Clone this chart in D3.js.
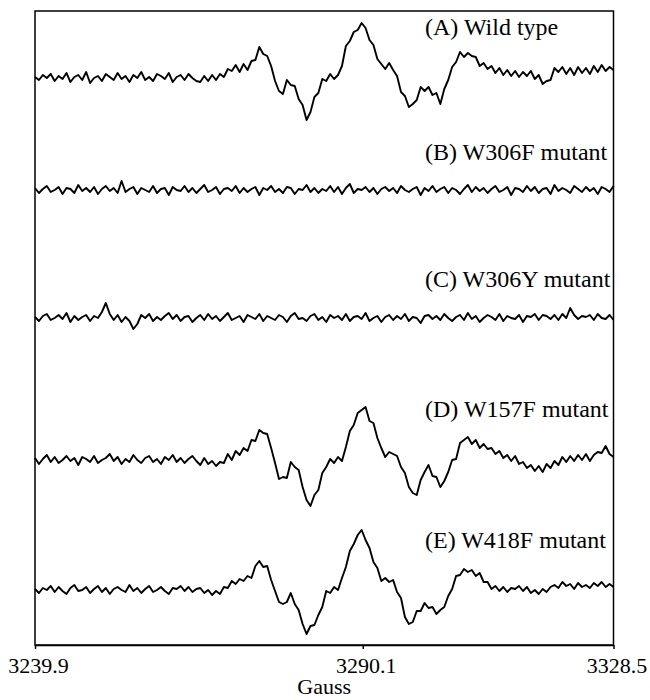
<!DOCTYPE html>
<html>
<head>
<meta charset="utf-8">
<script src="https://cdn.jsdelivr.net/npm/d3@7"></script>
<style>
    body { margin: 0; background: #fff; }
    text { font-family: "Liberation Serif", "Times New Roman", serif; fill: #000; }
</style>
</head>
<body>
<svg id="chart" width="650" height="700"></svg>
<script>
// field sweep (Gauss) and the three labelled ticks
var fieldStart = 3239.9, fieldEnd = 3328.5;
var tickFields = [3239.9, 3290.1, 3328.5];

var traceLabels = ["(A) Wild type", "(B) W306F mutant", "(C) W306Y mutant", "(D) W157F mutant", "(E) W418F mutant"];
// vertical stacking of the spectra, in signal units
var traceOffsets = [567, 455, 327, 185, 55];

var wildType = [1,-2,3,0,4,-3,2,-1,5,-4,1,3,-2,6,-5,0,2,-3,4,1,-2,5,-1,2,-4,3,0,6,-2,1,-3,4,2,-1,5,-4,1,3,-2,4,0,-3,
    -4,2,-3,3,-2,4,1,9,7,13, 6,14,8,17,18,31,24,22,12,-3, -13,-16,-2,-7,-8,-21,-27,-42,-34,-19,
    -15,-1,-3,4,-1,3,12,32,37,46, 48,55,50,38,33,19,14,9,15,8, 2,-14,-18,-29,-26,-22,-9,-13,-9,-17,
    -15,-26,-11,-2,11,16,26,21,25,22, 21,12,15,9,12,5,10,3,8,2, 7,1,6,2,7,-1,3,-6,-3,-2,
    10,6,11,4,10,3,11,5,10,4, 12,6,13,7,11,8];
var w306f = [2,-3,1,4,-2,0,3,-4,2,1, -3,5,-1,2,-2,3,-4,1,4,-1, 2,-3,9,-2,1,3,-4,2,0,-2,
    4,-3,1,2,-5,3,0,-1,4,-2, 2,-3,1,5,-2,0,3,-4,1,2, -1,4,-3,2,-2,1,3,-5,2,0,
    4,-2,1,-3,3,2,-4,1,0,5, -2,2,-3,1,-1,4,-2,3,-4,2, 6,-3,1,0,3,-2,2,-4,1,3,
    -1,2,-3,4,0,-2,1,3,-5,2, -1,4,-2,1,3,-3,2,0,-4,1, 5,-2,3,-1,2,-3,1,4,-2,0,
    3,-5,2,1,-2,4,-1,3,-3,1, 2,-4,5,-1,2,0,-3,4,1,-2, 3,-1,2,-4,3,1,-2,4];
var w306y = [1,-3,2,4,-2,0,3,-1,5,-4, 2,-2,1,3,-3,2,0,6,15,4, -2,3,-4,1,-3,-11,-6,3,0,4,
    -3,1,-2,2,5,-1,3,-3,1,2, -4,0,3,-2,4,-1,2,-3,1,5, -2,0,2,-4,3,1,-1,4,-3,2,
    0,-2,3,1,-4,2,5,-1,0,-3, 2,4,-2,1,-4,3,0,2,-2,4, -3,1,2,-1,5,-3,0,2,-4,1,
    3,-2,2,-1,4,-3,1,0,-5,2, 3,-1,2,-2,4,0,-3,1,3,-2, 5,-1,2,-4,0,3,1,-2,4,-3,
    2,0,-1,3,-4,2,1,4,-2,3, 2,-1,3,-2,4,0,10,3,-1,2, 1,3,-2,4,0,-1,3,-2];
var w157f = [2,-4,1,5,-2,3,-3,0,4,-1,2,-5,3,1,-2,4,-3,0,2,6,-1,3,-4,1,-2,5,0,-3,2,4,-2,1,-4,3,0,5,-2,2,-3,1,4,-1,
    -5,2,-4,-1,-6,-2,-3,6,0,9, 5,12,9,20,19,30,27,26,12,-3, -19,-17,-18,-2,-7,-10,-27,-40,-46,-35,
    -30,-13,-7,1,-3,3,-1,13,29,35, 47,50,53,39,37,22,12,3,8,6, 4,-7,-13,-27,-33,-35,-20,-12,-5,-16,
    -17,-27,-21,-12,0,1,17,20,23,16, 20,12,16,11,12,6,9,2,5,-1, 4,-4,-2,-8,-5,-11,-6,-12,-4,-8,
    -1,-5,3,-2,4,-1,5,0,6,-1, 5,8,7,14,6,3];
var w418f = [1,-3,2,0,4,-2,3,-1,-4,2,5,-1,0,3,-3,1,4,-2,2,-4,1,3,0,-2,5,-1,2,-3,1,4,-2,0,3,-1,-4,2,1,4,-1,3,-2,1,
    2,-3,0,-5,-1,-4,3,2,9,6, 11,9,14,12,24,29,23,24,10,-1, -12,-14,-12,-3,-14,-20,-34,-44,-36,-35,
    -25,-17,-1,-3,3,0,12,23,39,46, 55,60,50,42,28,22,9,12,8,10, -2,-8,-27,-34,-32,-21,-21,-13,-18,-17,
    -24,-20,-17,-6,1,14,15,21,18,20, 14,17,8,8,1,4,-1,3,-2,2, 1,4,-1,3,-3,0,-4,1,-2,3,
    5,2,8,4,6,1,7,3,5,2, 7,4,8,3,6,3];

var traces = [wildType, w306f, w306y, w157f, w418f];

var margin = {top: 11, right: 36.5, bottom: 55, left: 35};
var width = 650 - margin.left - margin.right,
    height = 700 - margin.top - margin.bottom;

var svg = d3.select("#chart");
var g = svg.append("g")
    .attr("transform", "translate(" + margin.left + "," + margin.top + ")");

var x = d3.scaleLinear().domain([fieldStart, fieldEnd]).range([0, width]);
var y = d3.scaleLinear().domain([0, height]).range([height, 0]);

// field of sample i out of n, spread over the whole sweep
function field(i, n) {
    return fieldStart + i * (fieldEnd - fieldStart) / (n - 1);
}

traces.forEach(function (values, k) {
    var n = values.length;
    var line = d3.line()
        .x(function (d, i) { return x(field(i, n)); })
        .y(function (d) { return y(traceOffsets[k] + d); });

    g.append("path")
        .datum(values)
        .attr("fill", "none")
        .attr("stroke", "#000")
        .attr("stroke-width", 1.9)
        .attr("stroke-linejoin", "round")
        .attr("d", line);
});

// labels sit left-aligned above each trace
var labelLift = [43, 30, 31, 43, 42];
g.selectAll(".trace-label")
    .data(traceLabels)
    .enter().append("text")
    .attr("class", "trace-label")
    .attr("x", 390)
    .attr("y", function (d, i) { return y(traceOffsets[i]) - labelLift[i]; })
    .style("font-size", "24px")
    .text(function (d) { return d; });

// frame
g.append("rect")
    .attr("width", width)
    .attr("height", height)
    .attr("fill", "none")
    .attr("stroke", "#000")
    .attr("stroke-width", 1.5);

var xAxis = d3.axisBottom(x)
    .tickValues(tickFields)
    .tickSize(4)
    .tickSizeOuter(0)
    .tickFormat(d3.format(".1f"));

var axisG = g.append("g")
    .attr("transform", "translate(0," + height + ")")
    .call(xAxis);
axisG.select(".domain").attr("stroke-width", 1.5);
axisG.selectAll(".tick line").attr("stroke-width", 1.5);
axisG.selectAll("text")
    .attr("y", 28)
    .attr("dy", 0)
    .attr("dx", 3)
    .style("font-family", '"Liberation Serif", "Times New Roman", serif')
    .style("font-size", "22px");

g.append("text")
    .attr("x", width / 2)
    .attr("y", height + 49)
    .attr("text-anchor", "middle")
    .style("font-size", "22px")
    .text("Gauss");
</script>
</body>
</html>
